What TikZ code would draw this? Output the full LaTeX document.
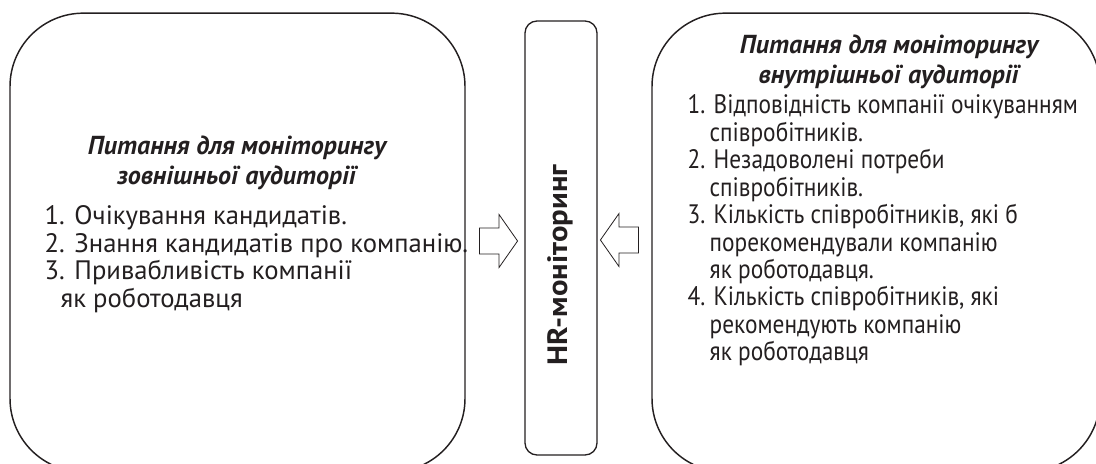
\documentclass[tikz,border=0pt]{standalone}
\usepackage{fontspec}
\setmainfont{PT Sans}
\newfontfamily\narrowsans[FakeStretch=0.875]{PT Sans}
\newfontfamily\widesans[FakeStretch=1.1]{PT Sans}
\usetikzlibrary{shapes.arrows}
\definecolor{ink}{HTML}{231F20}
\tikzset{
  bigbox/.style={draw=ink, line width=1.1pt, rounded corners=55pt,
    minimum width=#1, minimum height=344pt, inner sep=0pt},
  hrbox/.style={draw=ink, line width=1pt, rounded corners=9pt,
    minimum width=54pt, minimum height=325.5pt, inner sep=0pt},
  headtext/.style={align=center, font=\fontsize{19.5}{22.5}\selectfont\bfseries\itshape, text=ink},
  listtext/.style={align=left, anchor=north west, font=\fontsize{20}{20.6}\selectfont, text=ink},
  fatarrow/.style={single arrow, draw=ink, line width=0.6pt, minimum height=28.5pt,
    minimum width=39pt, text height=19pt, text depth=0pt, single arrow head extend=10pt,
    single arrow tip angle=110, inner sep=0pt}
}
\begin{document}
\begin{tikzpicture}[x=0.75pt,y=-0.75pt]
\useasboundingbox (0,0) rectangle (1096,464);
\clip (0,0) rectangle (1096,464);
% boxes
\node[bigbox=341.25pt] (outer) at (237.5,242.5) {};
\node[bigbox=336pt] (inner) at (876,242.5) {};
\node[hrbox] (hr) at (561,238) {};
\node[rotate=90, font=\fontsize{21}{21}\selectfont\widesans\bfseries, text=ink] (hrlabel) at (560,265) {HR-моніторинг};
% arrows
\node[fatarrow] (toleft) at (494,241) {};
\node[fatarrow, shape border rotate=180] (toright) at (624,240) {};
% left box text
\node[headtext] (outerhead) at (237,163) {Питання для моніторингу\\ зовнішньої аудиторії};
\node[listtext] (outerlist) at (40,201) {1. Очікування кандидатів.\\
2. Знання кандидатів про компанію.\\
3. Привабливість компанії\\
\hspace*{12pt}як роботодавця};
% right box text
\node[headtext] (innerhead) at (889,62) {Питання для моніторингу\\ внутрішньої аудиторії};
\node[listtext, font=\fontsize{20}{20.6}\selectfont\narrowsans] (innerlist) at (683,90) {1. Відповідність компанії очікуванням\\
\hspace*{16.5pt}співробітників.\\
2. Незадоволені потреби\\
\hspace*{16.5pt}співробітників.\\
3. Кількість співробітників, які б\\
\hspace*{16.5pt}порекомендували компанію\\
\hspace*{16.5pt}як роботодавця.\\
4. Кількість співробітників, які\\
\hspace*{16.5pt}рекомендують компанію\\
\hspace*{16.5pt}як роботодавця};
\end{tikzpicture}
\end{document}
